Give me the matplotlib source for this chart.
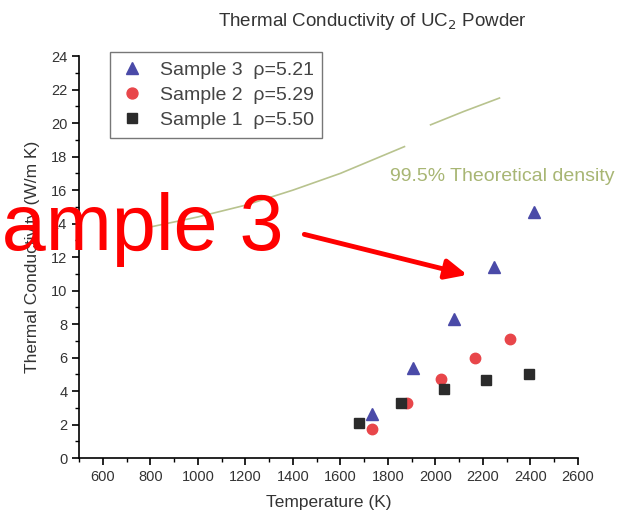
import numpy as np
import matplotlib.pyplot as plt

# measured points
t_s3 = [1733, 1904, 2077, 2247, 2415]
k_s3 = [2.66, 5.40, 8.30, 11.4, 14.7]
t_s2 = [1734, 1879, 2024, 2167, 2313]
k_s2 = [1.75, 3.32, 4.70, 5.97, 7.10]
t_s1 = [1680, 1855, 2037, 2213, 2394]
k_s1 = [2.07, 3.32, 4.11, 4.66, 5.02]

# 99.5% theoretical density curve (gap as in original)
t_curve = [800, 1000, 1200, 1400, 1600, 1870, np.nan, 1980, 2120, 2270]
k_curve = [13.8, 14.4, 15.1, 16.0, 17.0, 18.6, np.nan, 19.9, 20.7, 21.5]

plt.rcParams['font.family'] = ['Liberation Sans', 'DejaVu Sans']

fig = plt.figure(figsize=(6.18, 5.2), dpi=100)
ax = fig.add_axes([0.128, 0.119, 0.807, 0.773])

ax.plot(t_curve, k_curve, color='#b8c38e', lw=1.2)
ax.plot(t_s3, k_s3, '^', color='#4a4aa8', ms=8, label='Sample 3  \u03c1=5.21', ls='none')
ax.plot(t_s2, k_s2, 'o', color='#e8464a', ms=7.5, label='Sample 2  \u03c1=5.29', ls='none')
ax.plot(t_s1, k_s1, 's', color='#2b2b2b', ms=6.5, label='Sample 1  \u03c1=5.50', ls='none')

ax.set_xlim(500, 2600)
ax.set_ylim(0, 24)
ax.set_xticks(range(600, 2601, 200))
ax.set_xticks(range(500, 2601, 100), minor=True)
ax.set_yticks(range(0, 25, 2))
ax.set_yticks(range(0, 25, 1), minor=True)
for s in ['top', 'right']:
    ax.spines[s].set_visible(False)
for s in ['left', 'bottom']:
    ax.spines[s].set_linewidth(1.2)
ax.tick_params(which='major', direction='out', length=5, width=1.2, labelsize=10.5, labelcolor='#333333')
ax.tick_params(which='minor', direction='out', length=3, width=1)

ax.set_xlabel('Temperature (K)', fontsize=12.5, color='#333333', labelpad=8)
ax.set_ylabel('Thermal Conductivity (W/m K)', fontsize=12.5, color='#333333', labelpad=8)
fig.text(0.602, 0.958, 'Thermal Conductivity of UC$_2$ Powder', ha='center', va='center',
         fontsize=13.5, color='#333333')

leg = ax.legend(loc='upper left', bbox_to_anchor=(0.062, 1.01), borderaxespad=0, fontsize=14,
                frameon=True, fancybox=False, edgecolor='#555555', handletextpad=0.7,
                borderpad=0.45, labelspacing=0.4, handlelength=1.4, markerscale=1.05)
for txt in leg.get_texts():
    txt.set_color('#444444')
leg.get_frame().set_linewidth(1.0)

ax.text(1809, 16.8, '99.5% Theoretical density', color='#a8b674', fontsize=14,
        va='center', ha='left', clip_on=False)

# red overlay annotation
fig.text(-51 / 618, 1 - 250 / 520, 'Sample 3', color='red', fontsize=57, va='baseline', ha='left')
ax.annotate('', xy=(2146, 10.9), xytext=(1437, 13.4),
            arrowprops=dict(arrowstyle='-|>,head_length=1.3,head_width=0.6', color='red', lw=3.5))

fig.savefig('out.png', dpi=100)
